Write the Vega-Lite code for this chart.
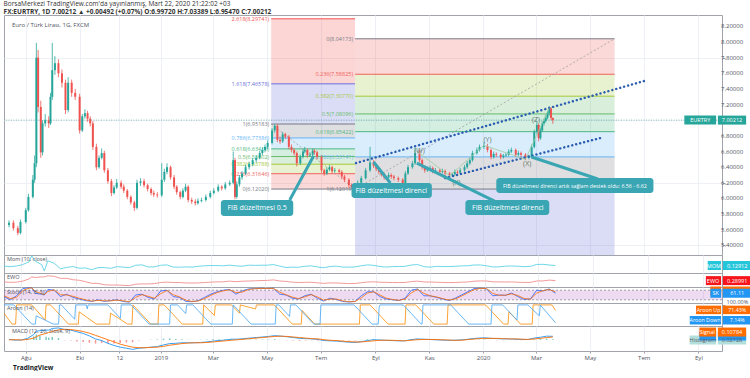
{
"$schema": "https://vega.github.io/schema/vega-lite/v6.json",
"padding": {"left": 3, "top": 0, "right": 0, "bottom": 0},
"background": "white",
"config": {"font": "Open Sans", "view": {"stroke": "#a0a3ab", "strokeWidth": 1}, "axis": {"labelOverlap": false}},
"title": {"text": "TradingView", "orient": "bottom", "anchor": "start", "fontSize": 6.5, "fontWeight": "bold", "color": "#131722", "offset": 4, "dx": 10},
"spacing": 0,
"bounds": "flush",
"resolve": {"scale": {"x": "independent", "y": "independent", "color": "independent"}},
"datasets": {
"candles": [
{"d":"2018-07-13","o":5.66,"h":5.72,"l":5.63,"c":5.69},{"d":"2018-07-18","o":5.69,"h":5.72,"l":5.59,"c":5.62},{"d":"2018-07-23","o":5.62,"h":5.65,"l":5.53,"c":5.56},{"d":"2018-07-26","o":5.56,"h":5.73,"l":5.54,"c":5.70},{"d":"2018-08-01","o":5.70,"h":5.88,"l":5.68,"c":5.85},{"d":"2018-08-04","o":5.85,"h":6.06,"l":5.83,"c":6.02},{"d":"2018-08-09","o":6.02,"h":6.30,"l":6.00,"c":6.24},{"d":"2018-08-11","o":6.24,"h":6.55,"l":6.20,"c":6.45},{"d":"2018-08-13","o":6.45,"h":7.99,"l":6.40,"c":7.80},{"d":"2018-08-15","o":7.80,"h":7.90,"l":7.10,"c":7.17},{"d":"2018-08-18","o":7.17,"h":7.25,"l":6.52,"c":6.59},{"d":"2018-08-20","o":6.59,"h":7.00,"l":6.55,"c":6.96},{"d":"2018-08-23","o":6.96,"h":7.08,"l":6.92,"c":7.00},{"d":"2018-08-27","o":7.00,"h":7.05,"l":6.90,"c":6.96},{"d":"2018-08-29","o":6.96,"h":7.35,"l":6.94,"c":7.30},{"d":"2018-08-31","o":7.30,"h":7.99,"l":7.26,"c":7.64},{"d":"2018-09-03","o":7.64,"h":7.82,"l":7.58,"c":7.73},{"d":"2018-09-07","o":7.73,"h":7.78,"l":7.55,"c":7.60},{"d":"2018-09-11","o":7.60,"h":7.65,"l":7.42,"c":7.48},{"d":"2018-09-15","o":7.48,"h":7.52,"l":7.08,"c":7.13},{"d":"2018-09-18","o":7.13,"h":7.55,"l":7.10,"c":7.48},{"d":"2018-09-22","o":7.48,"h":7.52,"l":7.30,"c":7.35},{"d":"2018-09-26","o":7.35,"h":7.40,"l":7.26,"c":7.30},{"d":"2018-10-01","o":7.30,"h":7.34,"l":6.83,"c":6.87},{"d":"2018-10-04","o":6.87,"h":7.08,"l":6.85,"c":7.05},{"d":"2018-10-07","o":7.05,"h":7.14,"l":7.02,"c":7.09},{"d":"2018-10-10","o":7.09,"h":7.12,"l":6.98,"c":7.02},{"d":"2018-10-13","o":7.02,"h":7.05,"l":6.92,"c":6.96},{"d":"2018-10-16","o":6.96,"h":6.99,"l":6.62,"c":6.66},{"d":"2018-10-20","o":6.66,"h":6.70,"l":6.36,"c":6.40},{"d":"2018-10-23","o":6.40,"h":6.55,"l":6.38,"c":6.52},{"d":"2018-10-26","o":6.52,"h":6.64,"l":6.50,"c":6.58},{"d":"2018-10-29","o":6.58,"h":6.61,"l":6.33,"c":6.36},{"d":"2018-11-02","o":6.36,"h":6.39,"l":6.19,"c":6.22},{"d":"2018-11-06","o":6.22,"h":6.25,"l":6.03,"c":6.07},{"d":"2018-11-09","o":6.07,"h":6.17,"l":6.05,"c":6.14},{"d":"2018-11-12","o":6.14,"h":6.25,"l":6.12,"c":6.20},{"d":"2018-11-17","o":6.20,"h":6.23,"l":6.12,"c":6.15},{"d":"2018-11-20","o":6.15,"h":6.18,"l":6.07,"c":6.10},{"d":"2018-11-24","o":6.10,"h":6.12,"l":5.99,"c":6.02},{"d":"2018-11-28","o":6.02,"h":6.04,"l":5.92,"c":5.95},{"d":"2018-12-02","o":5.95,"h":5.97,"l":5.84,"c":5.88},{"d":"2018-12-05","o":5.88,"h":6.24,"l":5.86,"c":6.20},{"d":"2018-12-09","o":6.20,"h":6.26,"l":6.16,"c":6.22},{"d":"2018-12-13","o":6.22,"h":6.25,"l":6.14,"c":6.17},{"d":"2018-12-17","o":6.17,"h":6.19,"l":6.09,"c":6.12},{"d":"2018-12-21","o":6.12,"h":6.14,"l":6.04,"c":6.07},{"d":"2018-12-24","o":6.07,"h":6.10,"l":6.02,"c":6.05},{"d":"2018-12-28","o":6.05,"h":6.08,"l":6.01,"c":6.04},
{"d":"2019-01-02","o":6.04,"h":6.45,"l":6.02,"c":6.24},{"d":"2019-01-05","o":6.24,"h":6.38,"l":6.21,"c":6.34},{"d":"2019-01-08","o":6.34,"h":6.45,"l":6.31,"c":6.40},{"d":"2019-01-12","o":6.40,"h":6.42,"l":6.24,"c":6.27},{"d":"2019-01-16","o":6.27,"h":6.30,"l":6.12,"c":6.15},{"d":"2019-01-19","o":6.15,"h":6.17,"l":6.05,"c":6.08},{"d":"2019-01-23","o":6.08,"h":6.10,"l":5.99,"c":6.02},{"d":"2019-01-26","o":6.02,"h":6.13,"l":6.00,"c":6.10},{"d":"2019-01-29","o":6.10,"h":6.19,"l":6.08,"c":6.15},{"d":"2019-02-01","o":6.15,"h":6.17,"l":5.95,"c":5.98},{"d":"2019-02-05","o":5.98,"h":6.01,"l":5.93,"c":5.96},{"d":"2019-02-09","o":5.96,"h":5.99,"l":5.91,"c":5.94},{"d":"2019-02-12","o":5.94,"h":6.00,"l":5.92,"c":5.97},{"d":"2019-02-16","o":5.97,"h":6.01,"l":5.95,"c":5.98},{"d":"2019-02-21","o":5.98,"h":6.05,"l":5.96,"c":6.02},{"d":"2019-02-26","o":6.02,"h":6.10,"l":6.00,"c":6.07},{"d":"2019-03-02","o":6.07,"h":6.13,"l":6.05,"c":6.10},{"d":"2019-03-07","o":6.10,"h":6.18,"l":6.08,"c":6.15},{"d":"2019-03-11","o":6.15,"h":6.17,"l":6.10,"c":6.13},{"d":"2019-03-15","o":6.13,"h":6.21,"l":6.11,"c":6.18},{"d":"2019-03-20","o":6.18,"h":6.23,"l":6.16,"c":6.20},{"d":"2019-03-24","o":6.20,"h":6.60,"l":6.18,"c":6.49},{"d":"2019-03-26","o":6.49,"h":6.52,"l":5.99,"c":6.02},{"d":"2019-03-28","o":6.02,"h":6.22,"l":6.00,"c":6.18},{"d":"2019-03-31","o":6.18,"h":6.30,"l":6.15,"c":6.27},{"d":"2019-04-03","o":6.27,"h":6.35,"l":6.24,"c":6.32},{"d":"2019-04-07","o":6.32,"h":6.43,"l":6.30,"c":6.40},{"d":"2019-04-11","o":6.40,"h":6.47,"l":6.37,"c":6.44},{"d":"2019-04-15","o":6.44,"h":6.52,"l":6.41,"c":6.49},{"d":"2019-04-19","o":6.49,"h":6.55,"l":6.46,"c":6.52},{"d":"2019-04-23","o":6.52,"h":6.61,"l":6.50,"c":6.58},{"d":"2019-04-26","o":6.58,"h":6.65,"l":6.55,"c":6.62},{"d":"2019-04-29","o":6.62,"h":6.69,"l":6.59,"c":6.66},{"d":"2019-05-02","o":6.66,"h":6.74,"l":6.63,"c":6.71},{"d":"2019-05-07","o":6.71,"h":6.90,"l":6.69,"c":6.87},{"d":"2019-05-10","o":6.87,"h":6.952,"l":6.84,"c":6.93},{"d":"2019-05-13","o":6.93,"h":6.95,"l":6.72,"c":6.75},{"d":"2019-05-16","o":6.75,"h":6.79,"l":6.70,"c":6.73},{"d":"2019-05-19","o":6.73,"h":6.85,"l":6.71,"c":6.82},{"d":"2019-05-22","o":6.82,"h":6.84,"l":6.76,"c":6.79},{"d":"2019-05-26","o":6.79,"h":6.81,"l":6.63,"c":6.66},{"d":"2019-05-29","o":6.66,"h":6.69,"l":6.59,"c":6.62},{"d":"2019-06-01","o":6.62,"h":6.64,"l":6.55,"c":6.58},{"d":"2019-06-04","o":6.58,"h":6.60,"l":6.41,"c":6.45},{"d":"2019-06-08","o":6.45,"h":6.56,"l":6.43,"c":6.53},{"d":"2019-06-11","o":6.53,"h":6.63,"l":6.51,"c":6.60},{"d":"2019-06-13","o":6.60,"h":6.66,"l":6.58,"c":6.62},{"d":"2019-06-16","o":6.62,"h":6.64,"l":6.52,"c":6.55},{"d":"2019-06-19","o":6.55,"h":6.59,"l":6.53,"c":6.56},{"d":"2019-06-22","o":6.56,"h":6.64,"l":6.54,"c":6.61},{"d":"2019-06-24","o":6.61,"h":6.63,"l":6.56,"c":6.59},{"d":"2019-06-27","o":6.59,"h":6.61,"l":6.50,"c":6.53},{"d":"2019-07-02","o":6.53,"h":6.55,"l":6.33,"c":6.36},{"d":"2019-07-05","o":6.36,"h":6.38,"l":6.29,"c":6.32},{"d":"2019-07-08","o":6.32,"h":6.40,"l":6.30,"c":6.37},{"d":"2019-07-11","o":6.37,"h":6.43,"l":6.35,"c":6.40},{"d":"2019-07-14","o":6.40,"h":6.42,"l":6.32,"c":6.35},{"d":"2019-07-17","o":6.35,"h":6.39,"l":6.33,"c":6.36},{"d":"2019-07-22","o":6.36,"h":6.38,"l":6.31,"c":6.34},{"d":"2019-07-25","o":6.34,"h":6.36,"l":6.25,"c":6.28},{"d":"2019-07-28","o":6.28,"h":6.30,"l":6.21,"c":6.24},{"d":"2019-08-02","o":6.24,"h":6.26,"l":6.14,"c":6.17},{"d":"2019-08-05","o":6.17,"h":6.19,"l":6.13,"c":6.15},{"d":"2019-08-08","o":6.15,"h":6.17,"l":6.1202,"c":6.13},{"d":"2019-08-12","o":6.13,"h":6.23,"l":6.12,"c":6.20},{"d":"2019-08-16","o":6.20,"h":6.29,"l":6.18,"c":6.26},{"d":"2019-08-21","o":6.26,"h":6.39,"l":6.24,"c":6.36},{"d":"2019-08-26","o":6.36,"h":6.66,"l":6.34,"c":6.46},{"d":"2019-08-30","o":6.46,"h":6.49,"l":6.39,"c":6.42},{"d":"2019-09-02","o":6.42,"h":6.44,"l":6.35,"c":6.38},{"d":"2019-09-05","o":6.38,"h":6.40,"l":6.31,"c":6.34},{"d":"2019-09-08","o":6.34,"h":6.36,"l":6.28,"c":6.31},{"d":"2019-09-11","o":6.31,"h":6.33,"l":6.24,"c":6.27},{"d":"2019-09-16","o":6.27,"h":6.33,"l":6.25,"c":6.30},{"d":"2019-09-19","o":6.30,"h":6.32,"l":6.25,"c":6.28},{"d":"2019-09-22","o":6.28,"h":6.30,"l":6.23,"c":6.26},{"d":"2019-09-27","o":6.26,"h":6.28,"l":6.21,"c":6.24},{"d":"2019-10-02","o":6.24,"h":6.26,"l":6.14,"c":6.17},{"d":"2019-10-05","o":6.17,"h":6.35,"l":6.15,"c":6.32},{"d":"2019-10-08","o":6.32,"h":6.43,"l":6.30,"c":6.40},{"d":"2019-10-13","o":6.40,"h":6.48,"l":6.38,"c":6.45},{"d":"2019-10-16","o":6.45,"h":6.65,"l":6.43,"c":6.58},{"d":"2019-10-21","o":6.58,"h":6.62,"l":6.46,"c":6.49},{"d":"2019-10-24","o":6.49,"h":6.51,"l":6.37,"c":6.40},{"d":"2019-10-27","o":6.40,"h":6.42,"l":6.33,"c":6.36},{"d":"2019-10-30","o":6.36,"h":6.41,"l":6.34,"c":6.38},{"d":"2019-11-02","o":6.38,"h":6.42,"l":6.36,"c":6.39},{"d":"2019-11-05","o":6.39,"h":6.41,"l":6.32,"c":6.35},{"d":"2019-11-08","o":6.35,"h":6.39,"l":6.33,"c":6.36},{"d":"2019-11-13","o":6.36,"h":6.38,"l":6.31,"c":6.34},{"d":"2019-11-16","o":6.34,"h":6.38,"l":6.32,"c":6.35},{"d":"2019-11-19","o":6.35,"h":6.37,"l":6.29,"c":6.32},{"d":"2019-11-24","o":6.32,"h":6.34,"l":6.27,"c":6.30},{"d":"2019-11-27","o":6.30,"h":6.33,"l":6.28,"c":6.31},{"d":"2019-11-30","o":6.31,"h":6.37,"l":6.29,"c":6.34},{"d":"2019-12-03","o":6.34,"h":6.36,"l":6.30,"c":6.33},{"d":"2019-12-06","o":6.33,"h":6.39,"l":6.31,"c":6.36},{"d":"2019-12-11","o":6.36,"h":6.43,"l":6.34,"c":6.40},{"d":"2019-12-14","o":6.40,"h":6.48,"l":6.38,"c":6.45},{"d":"2019-12-17","o":6.45,"h":6.52,"l":6.43,"c":6.49},{"d":"2019-12-20","o":6.49,"h":6.61,"l":6.47,"c":6.58},{"d":"2019-12-25","o":6.58,"h":6.65,"l":6.56,"c":6.62},{"d":"2019-12-28","o":6.62,"h":6.69,"l":6.60,"c":6.66},
{"d":"2020-01-02","o":6.66,"h":6.72,"l":6.63,"c":6.67},{"d":"2020-01-06","o":6.67,"h":6.70,"l":6.59,"c":6.62},{"d":"2020-01-10","o":6.62,"h":6.64,"l":6.50,"c":6.53},{"d":"2020-01-13","o":6.53,"h":6.60,"l":6.51,"c":6.57},{"d":"2020-01-16","o":6.57,"h":6.59,"l":6.53,"c":6.56},{"d":"2020-01-21","o":6.56,"h":6.58,"l":6.50,"c":6.53},{"d":"2020-01-24","o":6.53,"h":6.57,"l":6.51,"c":6.55},{"d":"2020-01-27","o":6.55,"h":6.58,"l":6.53,"c":6.56},{"d":"2020-01-30","o":6.56,"h":6.63,"l":6.54,"c":6.60},{"d":"2020-02-02","o":6.60,"h":6.65,"l":6.58,"c":6.62},{"d":"2020-02-07","o":6.62,"h":6.64,"l":6.53,"c":6.56},{"d":"2020-02-10","o":6.56,"h":6.61,"l":6.54,"c":6.58},{"d":"2020-02-13","o":6.58,"h":6.60,"l":6.53,"c":6.56},{"d":"2020-02-18","o":6.56,"h":6.58,"l":6.49,"c":6.52},{"d":"2020-02-22","o":6.52,"h":6.56,"l":6.50,"c":6.53},{"d":"2020-02-25","o":6.53,"h":6.69,"l":6.51,"c":6.66},{"d":"2020-02-28","o":6.66,"h":6.88,"l":6.64,"c":6.85},{"d":"2020-03-02","o":6.85,"h":6.98,"l":6.82,"c":6.94},{"d":"2020-03-04","o":6.94,"h":6.96,"l":6.73,"c":6.77},{"d":"2020-03-06","o":6.77,"h":6.90,"l":6.75,"c":6.87},{"d":"2020-03-08","o":6.87,"h":6.99,"l":6.85,"c":6.96},{"d":"2020-03-10","o":6.96,"h":7.02,"l":6.93,"c":6.99},{"d":"2020-03-12","o":6.99,"h":7.07,"l":6.97,"c":7.03},{"d":"2020-03-14","o":7.03,"h":7.12,"l":7.01,"c":7.09},{"d":"2020-03-16","o":7.09,"h":7.18,"l":7.06,"c":7.15},{"d":"2020-03-18","o":7.15,"h":7.17,"l":7.00,"c":7.03},{"d":"2020-03-20","o":7.03,"h":7.034,"l":6.955,"c":7.002}
],
"bands": [
{"d1":"2019-05-06","d2":"2019-08-09","lv":"0.236","p1":6.1202,"p2":6.31646},{"d1":"2019-05-06","d2":"2019-08-09","lv":"0.382","p1":6.31646,"p2":6.43788},{"d1":"2019-05-06","d2":"2019-08-09","lv":"0.5","p1":6.43788,"p2":6.53602},{"d1":"2019-05-06","d2":"2019-08-09","lv":"0.618","p1":6.53602,"p2":6.63415},{"d1":"2019-05-06","d2":"2019-08-09","lv":"0.786","p1":6.63415,"p2":6.77386},{"d1":"2019-05-06","d2":"2019-08-09","lv":"1","p1":6.77386,"p2":6.95183},{"d1":"2019-05-06","d2":"2019-08-09","lv":"1.618","p1":6.95183,"p2":7.46578},{"d1":"2019-05-06","d2":"2019-08-09","lv":"2.618","p1":7.46578,"p2":8.29741},
{"d1":"2019-08-09","d2":"2020-05-29","lv":"0.236","p1":8.04173,"p2":7.58825},{"d1":"2019-08-09","d2":"2020-05-29","lv":"0.382","p1":7.58825,"p2":7.3077},{"d1":"2019-08-09","d2":"2020-05-29","lv":"0.5","p1":7.3077,"p2":7.08096},{"d1":"2019-08-09","d2":"2020-05-29","lv":"0.618","p1":7.08096,"p2":6.85422},{"d1":"2019-08-09","d2":"2020-05-29","lv":"0.786","p1":6.85422,"p2":6.53141},{"d1":"2019-08-09","d2":"2020-05-29","lv":"1","p1":6.53141,"p2":6.12019},{"d1":"2019-08-09","d2":"2020-05-29","lv":"1.618","p1":6.12019,"p2":4.93268}
],
"levels": [
{"d1":"2019-05-06","d2":"2019-08-09","lv":"0","p":6.1202,"lab":"0(6.12020)"},{"d1":"2019-05-06","d2":"2019-08-09","lv":"0.236","p":6.31646,"lab":"0.236(6.31646)"},{"d1":"2019-05-06","d2":"2019-08-09","lv":"0.382","p":6.43788,"lab":"0.382(6.43788)"},{"d1":"2019-05-06","d2":"2019-08-09","lv":"0.5","p":6.53602,"lab":"0.5(6.53602)"},{"d1":"2019-05-06","d2":"2019-08-09","lv":"0.618","p":6.63415,"lab":"0.618(6.63415)"},{"d1":"2019-05-06","d2":"2019-08-09","lv":"0.786","p":6.77386,"lab":"0.786(6.77386)"},{"d1":"2019-05-06","d2":"2019-08-09","lv":"1","p":6.95183,"lab":"1(6.95183)"},{"d1":"2019-05-06","d2":"2019-08-09","lv":"1.618","p":7.46578,"lab":"1.618(7.46578)"},{"d1":"2019-05-06","d2":"2019-08-09","lv":"2.618","p":8.29741,"lab":"2.618(8.29741)"},
{"d1":"2019-08-09","d2":"2020-05-29","lv":"0","p":8.04173,"lab":"0(8.04173)"},{"d1":"2019-08-09","d2":"2020-05-29","lv":"0.236","p":7.58825,"lab":"0.236(7.58825)"},{"d1":"2019-08-09","d2":"2020-05-29","lv":"0.382","p":7.3077,"lab":"0.382(7.30770)"},{"d1":"2019-08-09","d2":"2020-05-29","lv":"0.5","p":7.08096,"lab":"0.5(7.08096)"},{"d1":"2019-08-09","d2":"2020-05-29","lv":"0.618","p":6.85422,"lab":"0.618(6.85422)"},{"d1":"2019-08-09","d2":"2020-05-29","lv":"0.786","p":6.53141,"lab":"0.786(6.53141)"},{"d1":"2019-08-09","d2":"2020-05-29","lv":"1","p":6.12019,"lab":"1(6.12019)"}
],
"diag": [{"d1":"2019-05-06","p1":6.95183,"d2":"2019-08-09","p2":6.1202},{"d1":"2019-08-09","p1":6.12019,"d2":"2020-05-29","p2":8.04173}],
"trend": [{"d1":"2019-08-10","p1":6.453,"d2":"2020-07-05","p2":7.514},{"d1":"2019-11-19","p1":6.261,"d2":"2020-05-13","p2":6.773}],
"wave": [{"d":"2019-10-16","p":6.62},{"d":"2019-11-24","p":6.29},{"d":"2020-01-02","p":6.68},{"d":"2020-02-18","p":6.5},{"d":"2020-03-16","p":7.16}],
"wlab": [{"t":"(W)","d":"2019-10-21","p":6.607},{"t":"(X)","d":"2019-12-02","p":6.197},{"t":"(Y)","d":"2020-01-06","p":6.747},{"t":"(X)","d":"2020-02-20","p":6.44},{"t":"(Z)","d":"2020-03-01","p":7.003}],
"pointers": [{"d1":"2019-05-27","p1":5.98,"d2":"2019-06-23","p2":6.543},{"d1":"2019-08-30","p1":6.466,"d2":"2019-09-18","p2":6.197},{"d1":"2019-10-18","p1":6.453,"d2":"2020-01-14","p2":5.967},{"d1":"2020-02-25","p1":6.53,"d2":"2020-05-10","p2":6.249}],
"callouts": [
{"t":"FIB düzeltmesi 0.5","d1":"2019-03-10","d2":"2019-05-31","p1":5.775,"p2":5.98,"dc":"2019-04-20","pc":5.878},
{"t":"FIB düzeltmesi direnci","d1":"2019-08-05","d2":"2019-11-04","p1":6.006,"p2":6.197,"dc":"2019-09-19","pc":6.101},
{"t":"FIB düzeltmesi direnci","d1":"2019-12-12","d2":"2020-03-16","p1":5.788,"p2":5.98,"dc":"2020-01-29","pc":5.884},
{"t":"FIB düzeltmesi direnci artık sağlam destek oldu: 6.56 - 6.62","d1":"2020-01-16","d2":"2020-07-12","p1":6.069,"p2":6.261,"dc":"2020-04-14","pc":6.165}
],
"ind": [
{"d":"2018-07-13","m":0.05,"e":0.05,"k":40,"sd":45,"ma":0.02,"sg":0.01,"hi":0.01},
{"d":"2018-07-20","m":-0.08,"e":-0.02,"k":20,"sd":28,"ma":0.0,"sg":0.01,"hi":-0.01},
{"d":"2018-07-27","m":0.05,"e":0.02,"k":45,"sd":35,"ma":0.0,"sg":0.0,"hi":0.0},
{"d":"2018-08-03","m":0.3,"e":0.2,"k":90,"sd":78,"ma":0.06,"sg":0.02,"hi":0.04},
{"d":"2018-08-10","m":0.8,"e":0.6,"k":95,"sd":92,"ma":0.2,"sg":0.07,"hi":0.13},
{"d":"2018-08-13","m":1.85,"e":0.95,"k":95,"sd":95,"ma":0.32,"sg":0.12,"hi":0.2},
{"d":"2018-08-17","m":0.9,"e":0.85,"k":60,"sd":72,"ma":0.34,"sg":0.18,"hi":0.16},
{"d":"2018-08-24","m":0.3,"e":0.95,"k":55,"sd":58,"ma":0.36,"sg":0.24,"hi":0.12},
{"d":"2018-08-27","m":-0.84,"e":0.95,"k":50,"sd":53,"ma":0.36,"sg":0.27,"hi":0.09},
{"d":"2018-08-31","m":0.95,"e":1.15,"k":85,"sd":72,"ma":0.42,"sg":0.31,"hi":0.11},
{"d":"2018-09-07","m":0.55,"e":1.05,"k":80,"sd":82,"ma":0.44,"sg":0.37,"hi":0.07},
{"d":"2018-09-14","m":-0.45,"e":0.7,"k":40,"sd":52,"ma":0.38,"sg":0.39,"hi":-0.01},
{"d":"2018-09-21","m":-0.2,"e":0.7,"k":55,"sd":50,"ma":0.36,"sg":0.38,"hi":-0.02},
{"d":"2018-09-28","m":-0.05,"e":0.45,"k":35,"sd":42,"ma":0.3,"sg":0.35,"hi":-0.05},
{"d":"2018-10-05","m":-0.35,"e":0.35,"k":25,"sd":30,"ma":0.24,"sg":0.31,"hi":-0.07},
{"d":"2018-10-12","m":-0.3,"e":0.1,"k":15,"sd":20,"ma":0.15,"sg":0.25,"hi":-0.1},
{"d":"2018-10-19","m":-0.6,"e":-0.2,"k":10,"sd":12,"ma":0.04,"sg":0.17,"hi":-0.13},
{"d":"2018-10-26","m":-0.25,"e":-0.2,"k":20,"sd":16,"ma":-0.02,"sg":0.09,"hi":-0.11},
{"d":"2018-11-02","m":-0.23,"e":-0.45,"k":10,"sd":14,"ma":-0.12,"sg":0.01,"hi":-0.13},
{"d":"2018-11-09","m":-0.37,"e":-0.5,"k":15,"sd":13,"ma":-0.2,"sg":-0.07,"hi":-0.13},
{"d":"2018-11-16","m":-0.07,"e":-0.5,"k":20,"sd":18,"ma":-0.26,"sg":-0.15,"hi":-0.11},
{"d":"2018-11-23","m":-0.15,"e":-0.55,"k":10,"sd":14,"ma":-0.3,"sg":-0.21,"hi":-0.09},
{"d":"2018-11-30","m":-0.25,"e":-0.6,"k":5,"sd":8,"ma":-0.34,"sg":-0.26,"hi":-0.08},
{"d":"2018-12-07","m":0.17,"e":-0.35,"k":50,"sd":35,"ma":-0.3,"sg":-0.28,"hi":-0.02},
{"d":"2018-12-14","m":0.25,"e":-0.3,"k":55,"sd":52,"ma":-0.28,"sg":-0.28,"hi":0.0},
{"d":"2018-12-21","m":-0.13,"e":-0.3,"k":35,"sd":42,"ma":-0.26,"sg":-0.27,"hi":0.01},
{"d":"2018-12-28","m":-0.11,"e":-0.25,"k":25,"sd":30,"ma":-0.24,"sg":-0.26,"hi":0.02},
{"d":"2019-01-04","m":0.17,"e":-0.05,"k":75,"sd":58,"ma":-0.18,"sg":-0.23,"hi":0.05},
{"d":"2019-01-11","m":0.24,"e":0.02,"k":80,"sd":78,"ma":-0.13,"sg":-0.19,"hi":0.06},
{"d":"2019-01-18","m":-0.14,"e":-0.05,"k":40,"sd":52,"ma":-0.12,"sg":-0.16,"hi":0.04},
{"d":"2019-01-25","m":-0.18,"e":-0.05,"k":35,"sd":38,"ma":-0.1,"sg":-0.13,"hi":0.03},
{"d":"2019-02-01","m":-0.12,"e":-0.12,"k":10,"sd":18,"ma":-0.1,"sg":-0.11,"hi":0.01},
{"d":"2019-02-08","m":-0.16,"e":-0.15,"k":8,"sd":10,"ma":-0.1,"sg":-0.1,"hi":0.0},
{"d":"2019-02-15","m":-0.01,"e":-0.12,"k":15,"sd":12,"ma":-0.09,"sg":-0.1,"hi":0.01},
{"d":"2019-02-22","m":0.09,"e":-0.06,"k":35,"sd":28,"ma":-0.07,"sg":-0.09,"hi":0.02},
{"d":"2019-03-01","m":0.13,"e":0.02,"k":55,"sd":48,"ma":-0.04,"sg":-0.07,"hi":0.03},
{"d":"2019-03-08","m":0.12,"e":0.06,"k":70,"sd":65,"ma":-0.02,"sg":-0.05,"hi":0.03},
{"d":"2019-03-15","m":0.08,"e":0.08,"k":80,"sd":76,"ma":0.0,"sg":-0.03,"hi":0.03},
{"d":"2019-03-22","m":0.2,"e":0.2,"k":85,"sd":83,"ma":0.03,"sg":-0.01,"hi":0.04},
{"d":"2019-03-29","m":0.07,"e":0.1,"k":55,"sd":65,"ma":0.03,"sg":0.01,"hi":0.02},
{"d":"2019-04-05","m":0.01,"e":0.18,"k":75,"sd":68,"ma":0.05,"sg":0.03,"hi":0.02},
{"d":"2019-04-12","m":0.19,"e":0.22,"k":88,"sd":84,"ma":0.07,"sg":0.05,"hi":0.02},
{"d":"2019-04-19","m":0.16,"e":0.26,"k":90,"sd":89,"ma":0.09,"sg":0.07,"hi":0.02},
{"d":"2019-04-26","m":0.18,"e":0.3,"k":92,"sd":91,"ma":0.11,"sg":0.09,"hi":0.02},
{"d":"2019-05-03","m":0.19,"e":0.33,"k":90,"sd":91,"ma":0.13,"sg":0.11,"hi":0.02},
{"d":"2019-05-10","m":0.3,"e":0.42,"k":92,"sd":91,"ma":0.16,"sg":0.13,"hi":0.03},
{"d":"2019-05-17","m":0.03,"e":0.22,"k":55,"sd":68,"ma":0.14,"sg":0.14,"hi":0.0},
{"d":"2019-05-24","m":-0.22,"e":0.15,"k":50,"sd":52,"ma":0.12,"sg":0.13,"hi":-0.01},
{"d":"2019-05-31","m":-0.16,"e":0.02,"k":30,"sd":37,"ma":0.09,"sg":0.11,"hi":-0.02},
{"d":"2019-06-07","m":-0.18,"e":-0.05,"k":25,"sd":27,"ma":0.06,"sg":0.09,"hi":-0.03},
{"d":"2019-06-14","m":-0.01,"e":-0.02,"k":45,"sd":38,"ma":0.05,"sg":0.07,"hi":-0.02},
{"d":"2019-06-21","m":0.07,"e":0.0,"k":55,"sd":52,"ma":0.04,"sg":0.05,"hi":-0.01},
{"d":"2019-06-28","m":-0.12,"e":-0.1,"k":30,"sd":38,"ma":0.02,"sg":0.04,"hi":-0.02},
{"d":"2019-07-05","m":-0.27,"e":-0.2,"k":12,"sd":18,"ma":-0.02,"sg":0.01,"hi":-0.03},
{"d":"2019-07-12","m":-0.05,"e":-0.12,"k":30,"sd":24,"ma":-0.03,"sg":-0.01,"hi":-0.02},
{"d":"2019-07-19","m":0.02,"e":-0.14,"k":22,"sd":25,"ma":-0.04,"sg":-0.02,"hi":-0.02},
{"d":"2019-07-26","m":-0.14,"e":-0.18,"k":10,"sd":14,"ma":-0.06,"sg":-0.04,"hi":-0.02},
{"d":"2019-08-02","m":-0.17,"e":-0.24,"k":6,"sd":8,"ma":-0.08,"sg":-0.06,"hi":-0.02},
{"d":"2019-08-09","m":-0.12,"e":-0.22,"k":10,"sd":9,"ma":-0.09,"sg":-0.07,"hi":-0.02},
{"d":"2019-08-16","m":0.09,"e":-0.08,"k":45,"sd":32,"ma":-0.06,"sg":-0.07,"hi":0.01},
{"d":"2019-08-23","m":0.24,"e":0.04,"k":70,"sd":62,"ma":-0.02,"sg":-0.05,"hi":0.03},
{"d":"2019-08-30","m":0.16,"e":0.08,"k":70,"sd":70,"ma":0.01,"sg":-0.03,"hi":0.04},
{"d":"2019-09-06","m":-0.05,"e":0.0,"k":40,"sd":50,"ma":0.0,"sg":-0.01,"hi":0.01},
{"d":"2019-09-13","m":-0.14,"e":-0.03,"k":25,"sd":30,"ma":-0.01,"sg":-0.01,"hi":0.0},
{"d":"2019-09-20","m":-0.07,"e":-0.05,"k":20,"sd":22,"ma":-0.02,"sg":-0.01,"hi":-0.01},
{"d":"2019-09-27","m":-0.05,"e":-0.06,"k":15,"sd":17,"ma":-0.03,"sg":-0.02,"hi":-0.01},
{"d":"2019-10-04","m":-0.01,"e":-0.04,"k":30,"sd":25,"ma":-0.03,"sg":-0.03,"hi":0.0},
{"d":"2019-10-11","m":0.22,"e":0.12,"k":80,"sd":63,"ma":0.01,"sg":-0.01,"hi":0.02},
{"d":"2019-10-18","m":0.3,"e":0.2,"k":88,"sd":85,"ma":0.04,"sg":0.01,"hi":0.03},
{"d":"2019-10-25","m":-0.07,"e":0.05,"k":45,"sd":60,"ma":0.03,"sg":0.02,"hi":0.01},
{"d":"2019-11-01","m":-0.16,"e":0.04,"k":45,"sd":45,"ma":0.02,"sg":0.02,"hi":0.0},
{"d":"2019-11-08","m":-0.02,"e":0.0,"k":35,"sd":38,"ma":0.01,"sg":0.02,"hi":-0.01},
{"d":"2019-11-15","m":-0.06,"e":-0.04,"k":25,"sd":28,"ma":0.0,"sg":0.01,"hi":-0.01},
{"d":"2019-11-22","m":-0.06,"e":-0.07,"k":15,"sd":18,"ma":-0.01,"sg":0.0,"hi":-0.01},
{"d":"2019-11-29","m":0.0,"e":-0.04,"k":30,"sd":25,"ma":-0.01,"sg":-0.01,"hi":0.0},
{"d":"2019-12-06","m":0.06,"e":0.0,"k":50,"sd":43,"ma":0.0,"sg":-0.01,"hi":0.01},
{"d":"2019-12-13","m":0.09,"e":0.05,"k":70,"sd":63,"ma":0.02,"sg":0.01,"hi":0.01},
{"d":"2019-12-20","m":0.22,"e":0.18,"k":90,"sd":83,"ma":0.05,"sg":0.03,"hi":0.02},
{"d":"2019-12-27","m":0.23,"e":0.24,"k":92,"sd":91,"ma":0.07,"sg":0.05,"hi":0.02},
{"d":"2020-01-03","m":0.08,"e":0.22,"k":88,"sd":90,"ma":0.08,"sg":0.06,"hi":0.02},
{"d":"2020-01-10","m":-0.12,"e":0.08,"k":45,"sd":60,"ma":0.06,"sg":0.06,"hi":0.0},
{"d":"2020-01-17","m":-0.11,"e":0.06,"k":50,"sd":48,"ma":0.05,"sg":0.06,"hi":-0.01},
{"d":"2020-01-24","m":0.02,"e":0.04,"k":48,"sd":49,"ma":0.04,"sg":0.05,"hi":-0.01},
{"d":"2020-01-31","m":0.05,"e":0.06,"k":62,"sd":57,"ma":0.04,"sg":0.04,"hi":0.0},
{"d":"2020-02-07","m":0.01,"e":0.0,"k":40,"sd":47,"ma":0.03,"sg":0.04,"hi":-0.01},
{"d":"2020-02-14","m":-0.07,"e":-0.03,"k":22,"sd":28,"ma":0.02,"sg":0.03,"hi":-0.01},
{"d":"2020-02-21","m":-0.03,"e":-0.03,"k":25,"sd":24,"ma":0.02,"sg":0.02,"hi":0.0},
{"d":"2020-02-28","m":0.32,"e":0.22,"k":80,"sd":62,"ma":0.07,"sg":0.04,"hi":0.03},
{"d":"2020-03-06","m":0.34,"e":0.24,"k":75,"sd":77,"ma":0.1,"sg":0.06,"hi":0.04},
{"d":"2020-03-13","m":0.22,"e":0.38,"k":88,"sd":84,"ma":0.14,"sg":0.09,"hi":0.05},
{"d":"2020-03-20","m":0.13,"e":0.29,"k":61,"sd":70,"ma":0.135,"sg":0.108,"hi":0.027}
],
"aroon": [
{"s":"up","d":"2018-07-13","v":57},{"s":"up","d":"2018-07-22","v":0},{"s":"up","d":"2018-07-26","v":0},{"s":"up","d":"2018-07-27","v":100},{"s":"up","d":"2018-08-13","v":100},{"s":"up","d":"2018-08-28","v":21},{"s":"up","d":"2018-08-29","v":100},{"s":"up","d":"2018-09-03","v":100},{"s":"up","d":"2018-09-23","v":0},{"s":"up","d":"2018-10-04","v":0},{"s":"up","d":"2018-10-05","v":64},{"s":"up","d":"2018-10-24","v":0},{"s":"up","d":"2018-11-08","v":0},{"s":"up","d":"2018-11-09","v":57},{"s":"up","d":"2018-11-28","v":0},{"s":"up","d":"2018-12-03","v":0},{"s":"up","d":"2018-12-04","v":100},{"s":"up","d":"2018-12-24","v":0},{"s":"up","d":"2019-01-01","v":0},{"s":"up","d":"2019-01-02","v":100},{"s":"up","d":"2019-01-08","v":100},{"s":"up","d":"2019-01-28","v":0},{"s":"up","d":"2019-02-20","v":0},{"s":"up","d":"2019-02-21","v":100},{"s":"up","d":"2019-03-05","v":45},{"s":"up","d":"2019-03-06","v":100},{"s":"up","d":"2019-03-24","v":100},{"s":"up","d":"2019-04-02","v":57},{"s":"up","d":"2019-04-03","v":100},{"s":"up","d":"2019-04-20","v":79},{"s":"up","d":"2019-04-21","v":100},{"s":"up","d":"2019-05-11","v":100},{"s":"up","d":"2019-05-31","v":0},{"s":"up","d":"2019-06-10","v":0},{"s":"up","d":"2019-06-11","v":71},{"s":"up","d":"2019-06-25","v":0},{"s":"up","d":"2019-08-14","v":0},{"s":"up","d":"2019-08-15","v":100},{"s":"up","d":"2019-08-26","v":100},{"s":"up","d":"2019-09-15","v":0},{"s":"up","d":"2019-10-04","v":0},{"s":"up","d":"2019-10-05","v":100},{"s":"up","d":"2019-10-16","v":100},{"s":"up","d":"2019-11-05","v":0},{"s":"up","d":"2019-11-20","v":0},{"s":"up","d":"2019-11-21","v":100},{"s":"up","d":"2020-01-02","v":100},{"s":"up","d":"2020-01-22","v":0},{"s":"up","d":"2020-01-27","v":0},{"s":"up","d":"2020-01-28","v":64},{"s":"up","d":"2020-02-10","v":0},{"s":"up","d":"2020-02-23","v":0},{"s":"up","d":"2020-02-24","v":100},{"s":"up","d":"2020-03-16","v":100},{"s":"up","d":"2020-03-20","v":71.43},
{"s":"down","d":"2018-07-13","v":100},{"s":"down","d":"2018-07-24","v":100},{"s":"down","d":"2018-08-13","v":0},{"s":"down","d":"2018-08-17","v":0},{"s":"down","d":"2018-08-18","v":43},{"s":"down","d":"2018-09-06","v":0},{"s":"down","d":"2018-09-12","v":0},{"s":"down","d":"2018-09-13","v":100},{"s":"down","d":"2018-09-15","v":100},{"s":"down","d":"2018-09-30","v":25},{"s":"down","d":"2018-10-01","v":100},{"s":"down","d":"2018-10-13","v":100},{"s":"down","d":"2018-10-14","v":79},{"s":"down","d":"2018-10-15","v":100},{"s":"down","d":"2018-11-06","v":100},{"s":"down","d":"2018-11-20","v":30},{"s":"down","d":"2018-11-21","v":100},{"s":"down","d":"2018-12-02","v":100},{"s":"down","d":"2018-12-22","v":0},{"s":"down","d":"2019-01-14","v":0},{"s":"down","d":"2019-01-15","v":100},{"s":"down","d":"2019-01-23","v":100},{"s":"down","d":"2019-02-01","v":55},{"s":"down","d":"2019-02-02","v":100},{"s":"down","d":"2019-02-09","v":100},{"s":"down","d":"2019-03-01","v":0},{"s":"down","d":"2019-03-25","v":0},{"s":"down","d":"2019-03-26","v":100},{"s":"down","d":"2019-04-15","v":0},{"s":"down","d":"2019-05-12","v":0},{"s":"down","d":"2019-05-13","v":100},{"s":"down","d":"2019-05-16","v":100},{"s":"down","d":"2019-05-28","v":40},{"s":"down","d":"2019-05-29","v":100},{"s":"down","d":"2019-06-04","v":100},{"s":"down","d":"2019-06-24","v":0},{"s":"down","d":"2019-07-01","v":0},{"s":"down","d":"2019-07-02","v":100},{"s":"down","d":"2019-08-08","v":100},{"s":"down","d":"2019-08-28","v":0},{"s":"down","d":"2019-09-04","v":0},{"s":"down","d":"2019-09-05","v":86},{"s":"down","d":"2019-09-06","v":100},{"s":"down","d":"2019-10-02","v":100},{"s":"down","d":"2019-10-22","v":0},{"s":"down","d":"2019-10-23","v":0},{"s":"down","d":"2019-10-24","v":100},{"s":"down","d":"2019-11-24","v":100},{"s":"down","d":"2019-12-14","v":0},{"s":"down","d":"2020-01-08","v":0},{"s":"down","d":"2020-01-09","v":100},{"s":"down","d":"2020-01-21","v":100},{"s":"down","d":"2020-02-06","v":21},{"s":"down","d":"2020-02-07","v":100},{"s":"down","d":"2020-02-18","v":100},{"s":"down","d":"2020-03-02","v":43},{"s":"down","d":"2020-03-03","v":100},{"s":"down","d":"2020-03-20","v":7.14}
],
"tgMain": [{"n":"EURTRY","t":"EURTRY","v":"7.00212","a":"2020-08-16","am":"2020-09-03","y":7.00212}],
"tgMom": [{"n":"MOM","t":"MOM","v":"0.12912","a":"2020-09-06","am":"2020-09-13","y":0.13}],
"tgEwo": [{"n":"EWO","t":"EWO","v":"0.28991","a":"2020-09-04","am":"2020-09-12","y":0.29}],
"tgSto": [{"n":"SD","t":"","v":"","a":"2020-09-09","am":"2020-09-15","y":75},{"n":"SK","t":"SK","v":"61.11","a":"2020-09-09","am":"2020-09-15","y":61.11}],
"tgAr": [{"n":"Aroon Up","t":"Aroon Up","v":"71.43%","a":"2020-08-24","am":"2020-09-07","y":74},{"n":"Aroon Down","t":"Aroon Down","v":"7.14%","a":"2020-08-17","am":"2020-09-03","y":20}],
"tgMacd": [{"n":"Histogram","t":"Histogram","v":"0.02728","a":"2020-08-22","am":"2020-09-06","y":0.0},{"n":"MACD","t":"","v":"","a":"2020-09-02","am":"2020-09-11","y":0.145},{"n":"Signal","t":"Signal","v":"0.10784","a":"2020-09-02","am":"2020-09-11","y":0.29}],
"ylab": [{"p":5.4,"t":"5.40000"},{"p":5.6,"t":"5.60000"},{"p":5.8,"t":"5.80000"},{"p":6.0,"t":"6.00000"},{"p":6.2,"t":"6.20000"},{"p":6.4,"t":"6.40000"},{"p":6.6,"t":"6.60000"},{"p":6.8,"t":"6.80000"},{"p":7.2,"t":"7.20000"},{"p":7.4,"t":"7.40000"},{"p":7.6,"t":"7.60000"},{"p":7.8,"t":"7.80000"},{"p":8.0,"t":"8.00000"},{"p":8.2,"t":"8.20000"}]
},
"vconcat": [
{
"width": 718, "height": 240,
"title": {"text": "BorsaMerkezi TradingView.com'da yayınlanmış, Mart 22, 2020 21:22:02 +03", "subtitle": "FX:EURTRY, 1D  7.00212 ▲ +0.00492 (+0.07%)  O:6.99720  H:7.03389  L:6.95470  C:7.00212", "anchor": "start", "fontSize": 6.5, "fontWeight": "normal", "color": "#333333", "subtitleFontSize": 6.5, "subtitleFontWeight": "bold", "subtitleColor": "#333333", "subtitlePadding": 1, "offset": 0},
"layer": [
{"data": {"name": "bands"}, "mark": {"type": "rect", "opacity": 0.24, "clip": true},
 "encoding": {
  "x": {"field": "d1", "type": "temporal", "title": null, "scale": {"domain": [{"year":2018,"month":7,"date":13},{"year":2020,"month":9,"date":22}]},
        "axis": {"labels": false, "ticks": false, "domain": false, "grid": true, "gridColor": "#edf0f5", "values": [{"year":2018,"month":8,"date":1},{"year":2018,"month":10,"date":1},{"year":2018,"month":11,"date":15},{"year":2019,"month":1,"date":1},{"year":2019,"month":3,"date":1},{"year":2019,"month":5,"date":1},{"year":2019,"month":7,"date":1},{"year":2019,"month":9,"date":1},{"year":2019,"month":11,"date":1},{"year":2020,"month":1,"date":1},{"year":2020,"month":3,"date":1},{"year":2020,"month":5,"date":1},{"year":2020,"month":7,"date":1},{"year":2020,"month":9,"date":1}]}},
  "x2": {"field": "d2"},
  "y": {"field": "p1", "type": "quantitative", "title": null, "scale": {"domain": [5.277, 8.346], "nice": false, "zero": false},
        "axis": {"orient": "right", "values": [5.4,5.6,5.8,6.0,6.2,6.4,6.6,6.8,7.0,7.2,7.4,7.6,7.8,8.0,8.2], "labels": false, "tickSize": 3, "tickColor": "#9ea1aa", "domain": false, "grid": true, "gridColor": "#edf0f5"}},
  "y2": {"field": "p2"},
  "color": {"field": "lv", "type": "nominal", "legend": null, "scale": {"domain": ["0","0.236","0.382","0.5","0.618","0.786","1","1.618","2.618"], "range": ["#787b86","#f0615a","#a5c93c","#66bb6a","#4db880","#64b5f6","#787b86","#6a6fd8","#ef5350"]}}}},
{"data": {"name": "ylab"}, "mark": {"type": "text", "align": "left", "baseline": "middle", "dx": 4, "fontSize": 6, "color": "#50535e"},
 "encoding": {"x": {"datum": {"year":2020,"month":9,"date":22}, "type": "temporal"}, "y": {"field": "p", "type": "quantitative", "title": null}, "text": {"field": "t"}}},
{"data": {"name": "levels"}, "mark": {"type": "rule", "strokeWidth": 1},
 "encoding": {"x": {"field": "d1", "type": "temporal", "title": null}, "x2": {"field": "d2"}, "y": {"field": "p", "type": "quantitative", "title": null}, "color": {"field": "lv", "type": "nominal", "legend": null}}},
{"data": {"name": "levels"}, "mark": {"type": "text", "align": "right", "baseline": "middle", "dx": -2, "fontSize": 5.5},
 "encoding": {"x": {"field": "d1", "type": "temporal", "title": null}, "y": {"field": "p", "type": "quantitative", "title": null}, "text": {"field": "lab"}, "color": {"field": "lv", "type": "nominal", "legend": null}}},
{"data": {"name": "diag"}, "mark": {"type": "rule", "color": "#9e9e9e", "strokeDash": [2, 2], "strokeWidth": 0.8},
 "encoding": {"x": {"field": "d1", "type": "temporal", "title": null}, "x2": {"field": "d2"}, "y": {"field": "p1", "type": "quantitative", "title": null}, "y2": {"field": "p2"}}},
{"data": {"values": [{}]}, "mark": {"type": "rule", "color": "#4a9e9e", "strokeDash": [1, 1.5], "strokeWidth": 0.8, "opacity": 0.8},
 "encoding": {"y": {"datum": 7.00212}}},
{"data": {"name": "candles"}, "mark": {"type": "rule", "strokeWidth": 0.8},
 "encoding": {"x": {"field": "d", "type": "temporal", "title": null}, "y": {"field": "l", "type": "quantitative", "title": null}, "y2": {"field": "h"},
  "color": {"condition": {"test": "datum.c >= datum.o", "value": "#26a69a"}, "value": "#ef5350"}}},
{"data": {"name": "candles"}, "mark": {"type": "bar", "width": 2},
 "encoding": {"x": {"field": "d", "type": "temporal", "title": null}, "y": {"field": "o", "type": "quantitative", "title": null}, "y2": {"field": "c"},
  "color": {"condition": {"test": "datum.c >= datum.o", "value": "#26a69a"}, "value": "#ef5350"}}},
{"data": {"name": "trend"}, "mark": {"type": "rule", "color": "#2a5daf", "strokeDash": [0.1, 4], "strokeWidth": 2.4, "strokeCap": "round"},
 "encoding": {"x": {"field": "d1", "type": "temporal", "title": null}, "x2": {"field": "d2"}, "y": {"field": "p1", "type": "quantitative", "title": null}, "y2": {"field": "p2"}}},
{"data": {"name": "wave"}, "mark": {"type": "line", "color": "#9ccc9c", "strokeWidth": 0.8},
 "encoding": {"x": {"field": "d", "type": "temporal", "title": null}, "y": {"field": "p", "type": "quantitative", "title": null}}},
{"data": {"name": "wlab"}, "mark": {"type": "text", "fontSize": 7, "color": "#6a786a"},
 "encoding": {"x": {"field": "d", "type": "temporal", "title": null}, "y": {"field": "p", "type": "quantitative", "title": null}, "text": {"field": "t"}}},
{"data": {"name": "pointers"}, "mark": {"type": "rule", "color": "#3aa6b3", "strokeWidth": 3},
 "encoding": {"x": {"field": "d1", "type": "temporal", "title": null}, "x2": {"field": "d2"}, "y": {"field": "p1", "type": "quantitative", "title": null}, "y2": {"field": "p2"}}},
{"data": {"name": "callouts"}, "mark": {"type": "rect", "color": "#3aa6b3", "cornerRadius": 3},
 "encoding": {"x": {"field": "d1", "type": "temporal", "title": null}, "x2": {"field": "d2"}, "y": {"field": "p1", "type": "quantitative", "title": null}, "y2": {"field": "p2"}}},
{"data": {"name": "callouts"}, "mark": {"type": "text", "color": "white"},
 "encoding": {"x": {"field": "dc", "type": "temporal", "title": null}, "y": {"field": "pc", "type": "quantitative", "title": null}, "text": {"field": "t"},
  "size": {"condition": {"test": "length(datum.t) > 30", "value": 5.3}, "value": 7}}},
{"data": {"values": [{"t": "Euro / Türk Lirası, 1G, FXCM"}]}, "mark": {"type": "text", "align": "left", "baseline": "top", "dx": 3, "dy": 7, "fontSize": 6, "color": "#50535e"},
 "encoding": {"x": {"datum": {"year":2018,"month":7,"date":13}, "type": "temporal"}, "y": {"datum": 8.346}, "text": {"field": "t"}}},
{"data": {"name": "tgMain"}, "mark": {"type": "rule", "strokeWidth": 9, "color": "#26a69a"},
 "encoding": {"x": {"field": "a", "type": "temporal", "title": null}, "x2": {"datum": {"year":2020,"month":9,"date":21}}, "y": {"field": "y", "type": "quantitative", "title": null}}},
{"data": {"name": "tgMain"}, "mark": {"type": "rule", "strokeWidth": 9, "color": "#26a69a"},
 "encoding": {"x": {"datum": {"year":2020,"month":9,"date":23}, "type": "temporal"}, "x2": {"datum": {"year":2020,"month":10,"date":25}}, "y": {"field": "y", "type": "quantitative", "title": null}}},
{"data": {"name": "tgMain"}, "mark": {"type": "text", "fontSize": 5.5, "color": "white"},
 "encoding": {"x": {"field": "am", "type": "temporal", "title": null}, "y": {"field": "y", "type": "quantitative", "title": null}, "text": {"field": "t"}}},
{"data": {"name": "tgMain"}, "mark": {"type": "text", "fontSize": 5.5, "color": "white"},
 "encoding": {"x": {"datum": {"year":2020,"month":10,"date":9}, "type": "temporal"}, "y": {"field": "y", "type": "quantitative", "title": null}, "text": {"field": "v"}}}
]
},
{
"width": 718, "height": 18,
"layer": [
{"data": {"name": "ind"}, "mark": {"type": "line", "color": "#5fd3e3", "strokeWidth": 0.9, "clip": true},
 "encoding": {"x": {"field": "d", "type": "temporal", "title": null, "scale": {"domain": [{"year":2018,"month":7,"date":13},{"year":2020,"month":9,"date":22}]},
   "axis": {"labels": false, "ticks": false, "domain": false, "grid": true, "gridColor": "#edf0f5", "values": [{"year":2018,"month":8,"date":1},{"year":2018,"month":10,"date":1},{"year":2018,"month":11,"date":15},{"year":2019,"month":1,"date":1},{"year":2019,"month":3,"date":1},{"year":2019,"month":5,"date":1},{"year":2019,"month":7,"date":1},{"year":2019,"month":9,"date":1},{"year":2019,"month":11,"date":1},{"year":2020,"month":1,"date":1},{"year":2020,"month":3,"date":1},{"year":2020,"month":5,"date":1},{"year":2020,"month":7,"date":1},{"year":2020,"month":9,"date":1}]}},
  "y": {"field": "m", "type": "quantitative", "title": null, "scale": {"domain": [-1.2, 2.0], "nice": false, "zero": false}, "axis": null}}},
{"data": {"values": [{"t": "Mom (10, close)"}]}, "mark": {"type": "text", "align": "left", "baseline": "top", "dx": 3, "dy": 2, "fontSize": 5.5, "color": "#50535e"},
 "encoding": {"x": {"datum": {"year":2018,"month":7,"date":13}, "type": "temporal"}, "y": {"datum": 2.0}, "text": {"field": "t"}}},
{"data": {"name": "tgMom"}, "mark": {"type": "rule", "strokeWidth": 9},
 "encoding": {"x": {"field": "a", "type": "temporal", "title": null}, "x2": {"datum": {"year":2020,"month":9,"date":21}}, "y": {"field": "y", "type": "quantitative", "title": null}, "color": {"field": "n", "type": "nominal", "legend": null, "scale": {"domain": ["MOM"], "range": ["#26c6da"]}}}},
{"data": {"name": "tgMom"}, "mark": {"type": "rule", "strokeWidth": 9},
 "encoding": {"x": {"datum": {"year":2020,"month":9,"date":23}, "type": "temporal"}, "x2": {"datum": {"year":2020,"month":10,"date":25}}, "y": {"field": "y", "type": "quantitative", "title": null}, "color": {"field": "n", "type": "nominal", "legend": null}}},
{"data": {"name": "tgMom"}, "mark": {"type": "text", "fontSize": 5.5, "color": "white"},
 "encoding": {"x": {"field": "am", "type": "temporal", "title": null}, "y": {"field": "y", "type": "quantitative", "title": null}, "text": {"field": "t"}}},
{"data": {"name": "tgMom"}, "mark": {"type": "text", "fontSize": 5.5, "color": "white"},
 "encoding": {"x": {"datum": {"year":2020,"month":10,"date":9}, "type": "temporal"}, "y": {"field": "y", "type": "quantitative", "title": null}, "text": {"field": "v"}}}
]
},
{
"width": 718, "height": 14,
"layer": [
{"data": {"name": "ind"}, "mark": {"type": "line", "color": "#f08f8f", "strokeWidth": 0.9, "clip": true},
 "encoding": {"x": {"field": "d", "type": "temporal", "title": null, "scale": {"domain": [{"year":2018,"month":7,"date":13},{"year":2020,"month":9,"date":22}]},
   "axis": {"labels": false, "ticks": false, "domain": false, "grid": true, "gridColor": "#edf0f5", "values": [{"year":2018,"month":8,"date":1},{"year":2018,"month":10,"date":1},{"year":2018,"month":11,"date":15},{"year":2019,"month":1,"date":1},{"year":2019,"month":3,"date":1},{"year":2019,"month":5,"date":1},{"year":2019,"month":7,"date":1},{"year":2019,"month":9,"date":1},{"year":2019,"month":11,"date":1},{"year":2020,"month":1,"date":1},{"year":2020,"month":3,"date":1},{"year":2020,"month":5,"date":1},{"year":2020,"month":7,"date":1},{"year":2020,"month":9,"date":1}]}},
  "y": {"field": "e", "type": "quantitative", "title": null, "scale": {"domain": [-0.85, 1.65], "nice": false, "zero": false}, "axis": null}}},
{"data": {"values": [{"t": "EWO"}]}, "mark": {"type": "text", "align": "left", "baseline": "top", "dx": 3, "dy": 2, "fontSize": 5.5, "color": "#50535e"},
 "encoding": {"x": {"datum": {"year":2018,"month":7,"date":13}, "type": "temporal"}, "y": {"datum": 1.65}, "text": {"field": "t"}}},
{"data": {"name": "tgEwo"}, "mark": {"type": "rule", "strokeWidth": 9},
 "encoding": {"x": {"field": "a", "type": "temporal", "title": null}, "x2": {"datum": {"year":2020,"month":9,"date":21}}, "y": {"field": "y", "type": "quantitative", "title": null}, "color": {"field": "n", "type": "nominal", "legend": null, "scale": {"domain": ["EWO"], "range": ["#f7151c"]}}}},
{"data": {"name": "tgEwo"}, "mark": {"type": "rule", "strokeWidth": 9},
 "encoding": {"x": {"datum": {"year":2020,"month":9,"date":23}, "type": "temporal"}, "x2": {"datum": {"year":2020,"month":10,"date":25}}, "y": {"field": "y", "type": "quantitative", "title": null}, "color": {"field": "n", "type": "nominal", "legend": null}}},
{"data": {"name": "tgEwo"}, "mark": {"type": "text", "fontSize": 5.5, "color": "white"},
 "encoding": {"x": {"field": "am", "type": "temporal", "title": null}, "y": {"field": "y", "type": "quantitative", "title": null}, "text": {"field": "t"}}},
{"data": {"name": "tgEwo"}, "mark": {"type": "text", "fontSize": 5.5, "color": "white"},
 "encoding": {"x": {"datum": {"year":2020,"month":10,"date":9}, "type": "temporal"}, "y": {"field": "y", "type": "quantitative", "title": null}, "text": {"field": "v"}}}
]
},
{
"width": 718, "height": 16,
"layer": [
{"data": {"values": [{}]}, "mark": {"type": "rect", "color": "#9c27b0", "opacity": 0.17},
 "encoding": {"x": {"datum": {"year":2018,"month":7,"date":13}, "type": "temporal", "scale": {"domain": [{"year":2018,"month":7,"date":13},{"year":2020,"month":9,"date":22}]},
   "axis": {"labels": false, "ticks": false, "domain": false, "grid": true, "gridColor": "#edf0f5", "values": [{"year":2018,"month":8,"date":1},{"year":2018,"month":10,"date":1},{"year":2018,"month":11,"date":15},{"year":2019,"month":1,"date":1},{"year":2019,"month":3,"date":1},{"year":2019,"month":5,"date":1},{"year":2019,"month":7,"date":1},{"year":2019,"month":9,"date":1},{"year":2019,"month":11,"date":1},{"year":2020,"month":1,"date":1},{"year":2020,"month":3,"date":1},{"year":2020,"month":5,"date":1},{"year":2020,"month":7,"date":1},{"year":2020,"month":9,"date":1}]}},
  "x2": {"datum": {"year":2020,"month":9,"date":22}},
  "y": {"datum": 20, "scale": {"domain": [0, 100], "nice": false}, "axis": null}, "y2": {"datum": 80}}},
{"data": {"values": [{"v": 20}, {"v": 80}]}, "mark": {"type": "rule", "color": "#787b86", "strokeDash": [2, 2], "strokeWidth": 0.7},
 "encoding": {"y": {"field": "v", "type": "quantitative", "title": null}}},
{"data": {"name": "ind"}, "mark": {"type": "line", "color": "#2962ff", "strokeWidth": 0.8, "clip": true},
 "encoding": {"x": {"field": "d", "type": "temporal", "title": null}, "y": {"field": "k", "type": "quantitative", "title": null}}},
{"data": {"name": "ind"}, "mark": {"type": "line", "color": "#ff6d00", "strokeWidth": 0.8, "clip": true},
 "encoding": {"x": {"field": "d", "type": "temporal", "title": null}, "y": {"field": "sd", "type": "quantitative", "title": null}}},
{"data": {"values": [{"t": "Stoch (14, 3, 3)"}]}, "mark": {"type": "text", "align": "left", "baseline": "top", "dx": 3, "dy": 3, "fontSize": 5.5, "color": "#50535e"},
 "encoding": {"x": {"datum": {"year":2018,"month":7,"date":13}, "type": "temporal"}, "y": {"datum": 100}, "text": {"field": "t"}}},
{"data": {"name": "tgSto"}, "mark": {"type": "rule", "strokeWidth": 9},
 "encoding": {"x": {"field": "a", "type": "temporal", "title": null}, "x2": {"datum": {"year":2020,"month":9,"date":21}}, "y": {"field": "y", "type": "quantitative", "title": null}, "color": {"field": "n", "type": "nominal", "legend": null, "scale": {"domain": ["SD", "SK"], "range": ["#ff6d00", "#2196f3"]}}}},
{"data": {"name": "tgSto"}, "mark": {"type": "rule", "strokeWidth": 9},
 "encoding": {"x": {"datum": {"year":2020,"month":9,"date":23}, "type": "temporal"}, "x2": {"datum": {"year":2020,"month":10,"date":25}}, "y": {"field": "y", "type": "quantitative", "title": null}, "color": {"field": "n", "type": "nominal", "legend": null}}},
{"data": {"name": "tgSto"}, "mark": {"type": "text", "fontSize": 5.5, "color": "white"},
 "encoding": {"x": {"field": "am", "type": "temporal", "title": null}, "y": {"field": "y", "type": "quantitative", "title": null}, "text": {"field": "t"}}},
{"data": {"name": "tgSto"}, "mark": {"type": "text", "fontSize": 5.5, "color": "white"},
 "encoding": {"x": {"datum": {"year":2020,"month":10,"date":9}, "type": "temporal"}, "y": {"field": "y", "type": "quantitative", "title": null}, "text": {"field": "v"}}}
]
},
{
"width": 718, "height": 23,
"layer": [
{"data": {"name": "aroon"}, "transform": [{"filter": "datum.s == 'up'"}], "mark": {"type": "line", "color": "#fb8c00", "strokeWidth": 0.8, "clip": true},
 "encoding": {"x": {"field": "d", "type": "temporal", "title": null, "scale": {"domain": [{"year":2018,"month":7,"date":13},{"year":2020,"month":9,"date":22}]},
   "axis": {"labels": false, "ticks": false, "domain": false, "grid": true, "gridColor": "#edf0f5", "values": [{"year":2018,"month":8,"date":1},{"year":2018,"month":10,"date":1},{"year":2018,"month":11,"date":15},{"year":2019,"month":1,"date":1},{"year":2019,"month":3,"date":1},{"year":2019,"month":5,"date":1},{"year":2019,"month":7,"date":1},{"year":2019,"month":9,"date":1},{"year":2019,"month":11,"date":1},{"year":2020,"month":1,"date":1},{"year":2020,"month":3,"date":1},{"year":2020,"month":5,"date":1},{"year":2020,"month":7,"date":1},{"year":2020,"month":9,"date":1}]}},
  "y": {"field": "v", "type": "quantitative", "title": null, "scale": {"domain": [-10, 110], "nice": false, "zero": false},
   "axis": {"orient": "right", "values": [100], "labelExpr": "'100.00%'", "labelFontSize": 5.5, "labelColor": "#50535e", "labelBaseline": "bottom", "tickSize": 3, "tickColor": "#9ea1aa", "domain": false, "grid": false, "labelPadding": 1}}}},
{"data": {"name": "aroon"}, "transform": [{"filter": "datum.s == 'down'"}], "mark": {"type": "line", "color": "#42a5f5", "strokeWidth": 0.8, "clip": true},
 "encoding": {"x": {"field": "d", "type": "temporal", "title": null}, "y": {"field": "v", "type": "quantitative", "title": null}}},
{"data": {"values": [{"t": "Aroon (14)"}]}, "mark": {"type": "text", "align": "left", "baseline": "top", "dx": 3, "dy": 3, "fontSize": 5.5, "color": "#50535e"},
 "encoding": {"x": {"datum": {"year":2018,"month":7,"date":13}, "type": "temporal"}, "y": {"datum": 110}, "text": {"field": "t"}}},
{"data": {"name": "tgAr"}, "mark": {"type": "rule", "strokeWidth": 8.5},
 "encoding": {"x": {"field": "a", "type": "temporal", "title": null}, "x2": {"datum": {"year":2020,"month":9,"date":21}}, "y": {"field": "y", "type": "quantitative", "title": null}, "color": {"field": "n", "type": "nominal", "legend": null, "scale": {"domain": ["Aroon Up", "Aroon Down"], "range": ["#ff6d00", "#2196f3"]}}}},
{"data": {"name": "tgAr"}, "mark": {"type": "rule", "strokeWidth": 8.5},
 "encoding": {"x": {"datum": {"year":2020,"month":9,"date":23}, "type": "temporal"}, "x2": {"datum": {"year":2020,"month":10,"date":25}}, "y": {"field": "y", "type": "quantitative", "title": null}, "color": {"field": "n", "type": "nominal", "legend": null}}},
{"data": {"name": "tgAr"}, "mark": {"type": "text", "fontSize": 5.3, "color": "white"},
 "encoding": {"x": {"field": "am", "type": "temporal", "title": null}, "y": {"field": "y", "type": "quantitative", "title": null}, "text": {"field": "t"}}},
{"data": {"name": "tgAr"}, "mark": {"type": "text", "fontSize": 5.3, "color": "white"},
 "encoding": {"x": {"datum": {"year":2020,"month":10,"date":9}, "type": "temporal"}, "y": {"field": "y", "type": "quantitative", "title": null}, "text": {"field": "v"}}}
]
},
{
"width": 718, "height": 25,
"layer": [
{"data": {"name": "ind"}, "mark": {"type": "bar", "width": 1.5, "opacity": 0.6, "clip": true},
 "encoding": {"x": {"field": "d", "type": "temporal", "title": null, "scale": {"domain": [{"year":2018,"month":7,"date":13},{"year":2020,"month":9,"date":22}]},
   "axis": {"labels": true, "ticks": true, "tickSize": 2, "tickColor": "#9ea1aa", "domain": false, "grid": true, "gridColor": "#edf0f5", "labelFontSize": 6, "labelColor": "#50535e", "labelPadding": 1, "labelFlush": false, "labelOverlap": false,
    "values": [{"year":2018,"month":8,"date":1},{"year":2018,"month":10,"date":1},{"year":2018,"month":11,"date":15},{"year":2019,"month":1,"date":1},{"year":2019,"month":3,"date":1},{"year":2019,"month":5,"date":1},{"year":2019,"month":7,"date":1},{"year":2019,"month":9,"date":1},{"year":2019,"month":11,"date":1},{"year":2020,"month":1,"date":1},{"year":2020,"month":3,"date":1},{"year":2020,"month":5,"date":1},{"year":2020,"month":7,"date":1},{"year":2020,"month":9,"date":1}],
    "labelExpr": "month(datum.value)==0 ? timeFormat(datum.value,'%Y') : (year(datum.value)==2018 && month(datum.value)==10 ? '12' : ['Oca','Şub','Mar','Nis','May','Haz','Tem','Ağu','Eyl','Eki','Kas','Ara'][month(datum.value)])"}},
  "y": {"field": "hi", "type": "quantitative", "title": null, "scale": {"domain": [-0.40, 0.51], "nice": false, "zero": false}, "axis": null},
  "y2": {"datum": 0},
  "color": {"condition": {"test": "datum.hi >= 0", "value": "#26a69a"}, "value": "#ef5350"}}},
{"data": {"name": "ind"}, "mark": {"type": "line", "color": "#2196f3", "strokeWidth": 0.9, "clip": true},
 "encoding": {"x": {"field": "d", "type": "temporal", "title": null}, "y": {"field": "ma", "type": "quantitative", "title": null}}},
{"data": {"name": "ind"}, "mark": {"type": "line", "color": "#ff6d00", "strokeWidth": 0.9, "clip": true},
 "encoding": {"x": {"field": "d", "type": "temporal", "title": null}, "y": {"field": "sg", "type": "quantitative", "title": null}}},
{"data": {"values": [{"t": "MACD (12, 26, close, 9)"}]}, "mark": {"type": "text", "align": "left", "baseline": "top", "dx": 3, "dy": 3, "fontSize": 5.5, "color": "#50535e"},
 "encoding": {"x": {"datum": {"year":2018,"month":7,"date":13}, "type": "temporal"}, "y": {"datum": 0.51}, "text": {"field": "t"}}},
{"data": {"name": "tgMacd"}, "mark": {"type": "rule", "strokeWidth": 9},
 "encoding": {"x": {"field": "a", "type": "temporal", "title": null}, "x2": {"datum": {"year":2020,"month":9,"date":21}}, "y": {"field": "y", "type": "quantitative", "title": null}, "color": {"field": "n", "type": "nominal", "legend": null, "scale": {"domain": ["Histogram", "MACD", "Signal"], "range": ["#b2dfdb", "#2196f3", "#ff6d00"]}}}},
{"data": {"name": "tgMacd"}, "mark": {"type": "rule", "strokeWidth": 9},
 "encoding": {"x": {"datum": {"year":2020,"month":9,"date":23}, "type": "temporal"}, "x2": {"datum": {"year":2020,"month":10,"date":25}}, "y": {"field": "y", "type": "quantitative", "title": null}, "color": {"field": "n", "type": "nominal", "legend": null}}},
{"data": {"name": "tgMacd"}, "mark": {"type": "text", "fontSize": 5.5},
 "encoding": {"x": {"field": "am", "type": "temporal", "title": null}, "y": {"field": "y", "type": "quantitative", "title": null}, "text": {"field": "t"}, "fill": {"condition": {"test": "datum.n == 'Histogram'", "value": "#5d606b"}, "value": "white"}}},
{"data": {"name": "tgMacd"}, "mark": {"type": "text", "fontSize": 5.5},
 "encoding": {"x": {"datum": {"year":2020,"month":10,"date":9}, "type": "temporal"}, "y": {"field": "y", "type": "quantitative", "title": null}, "text": {"field": "v"}, "fill": {"condition": {"test": "datum.n == 'Histogram'", "value": "#5d606b"}, "value": "white"}}}
]
}
]
}
